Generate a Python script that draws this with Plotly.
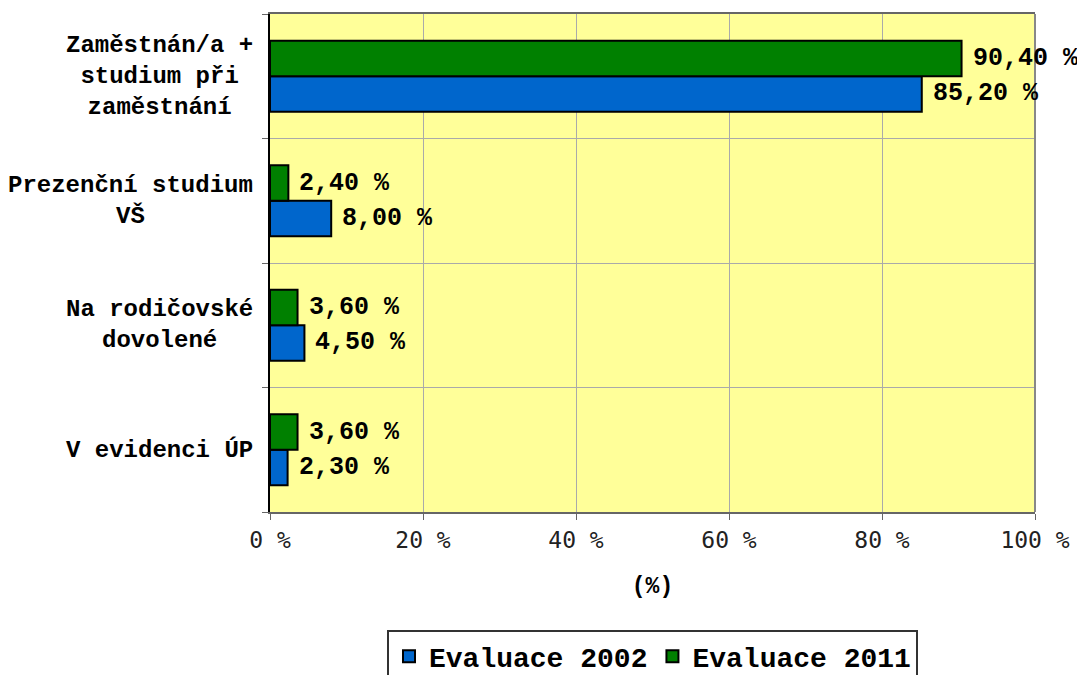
import plotly.graph_objects as go

categories = ["V evidenci ÚP", "Na rodičovské<br>dovolené", "Prezenční studium<br>VŠ",
              "Zaměstnán/a +<br>studium při<br>zaměstnání"]
series_names = ["Evaluace 2002", "Evaluace 2011"]
values_2002 = [2.3, 4.5, 8.0, 85.2]
values_2011 = [3.6, 3.6, 2.4, 90.4]
x_tickvals = [0, 20, 40, 60, 80, 100]
x_ticktext = ["0 %", "20 %", "40 %", "60 %", "80 %", "100 %"]
x_title = "(%)"

colors = ["#0066CC", "#008000"]
label_shift = [-17.5, 17.5]
MONO = "Liberation Mono"


def fmt(v):
    return f"{v:.2f}".replace(".", ",") + " %"


fig = go.Figure()
annotations = []
for name, vals, col, ysh in zip(series_names, [values_2002, values_2011], colors, label_shift):
    fig.add_trace(go.Bar(
        y=categories, x=vals, name=name, orientation="h",
        marker=dict(color=col, line=dict(color="#000000", width=2)),
    ))
    for c, v in zip(categories, vals):
        annotations.append(dict(
            xref="x", yref="y", x=v, y=c, xanchor="left", yanchor="middle",
            xshift=9, yshift=ysh, showarrow=False, text=fmt(v),
            font=dict(family=MONO, size=25, color="#000000", weight="bold"),
        ))

for c in categories:
    annotations.append(dict(
        xref="paper", yref="y", x=0, y=c, xanchor="right", yanchor="middle",
        xshift=-15, align="center", showarrow=False, text=c,
        font=dict(family=MONO, size=24, color="#000000", weight="bold"),
    ))

# page body has an 8px default margin; size the figure to fit the 1085x675 window
fig.update_layout(
    width=1077, height=667,
    margin=dict(l=262, r=50, t=6, b=163, autoexpand=False),
    paper_bgcolor="#FFFFFF", plot_bgcolor="#FFFF99",
    barmode="group", bargap=0.43, bargroupgap=0,
    showlegend=True,
    legend=dict(
        orientation="h", x=0.5, xanchor="center", y=-0.236, yanchor="top",
        font=dict(family=MONO, size=28, color="#000000", weight="bold"),
        bordercolor="#333333", borderwidth=2, bgcolor="#FFFFFF",
        itemwidth=30, tracegroupgap=0,
    ),
    annotations=annotations,
    shapes=[dict(type="line", xref="paper", yref="paper", x0=1, x1=1, y0=0, y1=1,
                 line=dict(color="#888888", width=2))],
)
fig.update_xaxes(
    range=[0, 100], tickvals=x_tickvals, ticktext=x_ticktext,
    showgrid=True, gridcolor="#AAAAAA", gridwidth=1,
    showline=True, linecolor="#666666", linewidth=2, mirror=True,
    ticks="outside", ticklen=6, tickcolor="#666666",
    tickfont=dict(family="DejaVu Sans Mono", size=23, color="#222222"),
    title=dict(text=x_title, font=dict(family=MONO, size=23, color="#000000", weight="bold"),
               standoff=25),
    zeroline=False,
)
fig.update_yaxes(
    type="category", categoryorder="array", categoryarray=categories,
    showticklabels=False, tickson="boundaries", ticks="outside", ticklen=6,
    tickcolor="#666666", showgrid=True, gridcolor="#AAAAAA", gridwidth=1,
    showline=True, linecolor="#000000", linewidth=2,
)

fig.write_html("out.html")
